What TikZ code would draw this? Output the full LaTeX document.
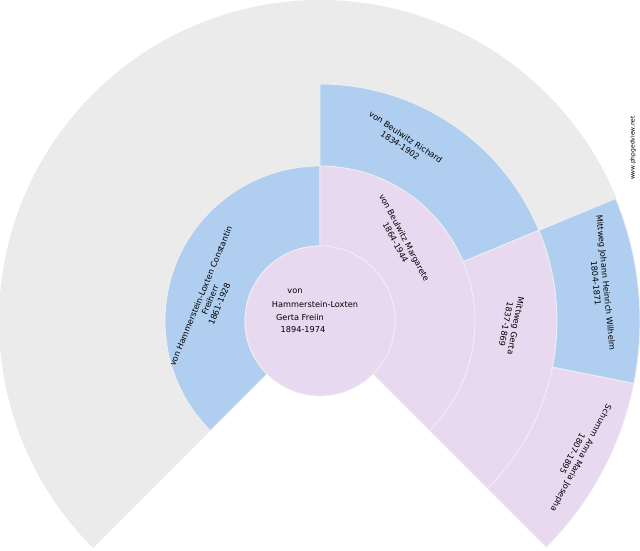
\documentclass[tikz,border=0pt]{standalone}
\usepackage{fontspec}
\setmainfont{DejaVu Sans}
\definecolor{mblue}{HTML}{B0CFF0}
\definecolor{fpink}{HTML}{E8D9F0}
\definecolor{empt}{HTML}{EBEBEB}
\definecolor{sep}{HTML}{F0F0F0}
\newcommand{\sect}[5]{\filldraw[fill=#5,draw=sep,line width=0.8pt] (#1:#3) arc(#1:#2:#3) -- (#2:#4) arc(#2:#1:#4) -- cycle;}
\tikzset{lbl/.style={font=\fontsize{8.2}{10}\selectfont,align=center,inner sep=0pt}}
\begin{document}
\begin{tikzpicture}[x=1pt,y=1pt]
\useasboundingbox (-320,-229) rectangle (320,321);
% empty ancestors
\fill[empt] (90:155) arc(90:225:155) -- (225:321) arc(225:90:321) -- cycle;
\fill[empt] (22.5:237) arc(22.5:90:237) -- (90:321) arc(90:22.5:321) -- cycle;
% ring 1
\sect{90}{225}{75}{155}{mblue}
\sect{-45}{90}{75}{155}{fpink}
% ring 2
\sect{22.5}{90}{155}{237}{mblue}
\sect{-45}{22.5}{155}{237}{fpink}
% ring 3
\sect{-11.25}{22.5}{237}{320}{mblue}
\sect{-45}{-11.25}{237}{320}{fpink}
% center
\filldraw[fill=fpink,draw=sep,line width=0.8pt] (0,0) circle (75);
\node[lbl] (c1) at (-25,30) {von};
\node[lbl] (c2) at (-5,17) {Hammerstein-Loxten};
\node[lbl] (c3) at (-20,4) {Gerta Freiin};
\node[lbl] (c4) at (-17,-9) {1894-1974};
\node[lbl,rotate=67.5] (fa) at (-110,21) {von Hammerstein-Loxten Constantin\\Freiherr\\1861-1928};
\node[lbl,rotate=-62] (mo) at (80,81) {von Beulwitz Margarete\\1864-1944};
\node[lbl,rotate=-34] (mf) at (83,180) {von Beulwitz Richard\\1834-1902};
\node[lbl,rotate=-101] (mm) at (191,-4) {Mittweg Gerta\\1837-1869};
\node[lbl,rotate=-84.4] (mmf) at (281,38) {Mittweg Johann Heinrich Wilhelm\\1804-1871};
\node[lbl,rotate=-118] (mmm) at (257,-135) {Schumm Anna Maria Josepha\\1807-1895};
\node[font=\fontsize{6}{7}\selectfont,rotate=90,inner sep=0pt] (wm) at (313,173) {www.phpgedview.net};
\end{tikzpicture}
\end{document}
